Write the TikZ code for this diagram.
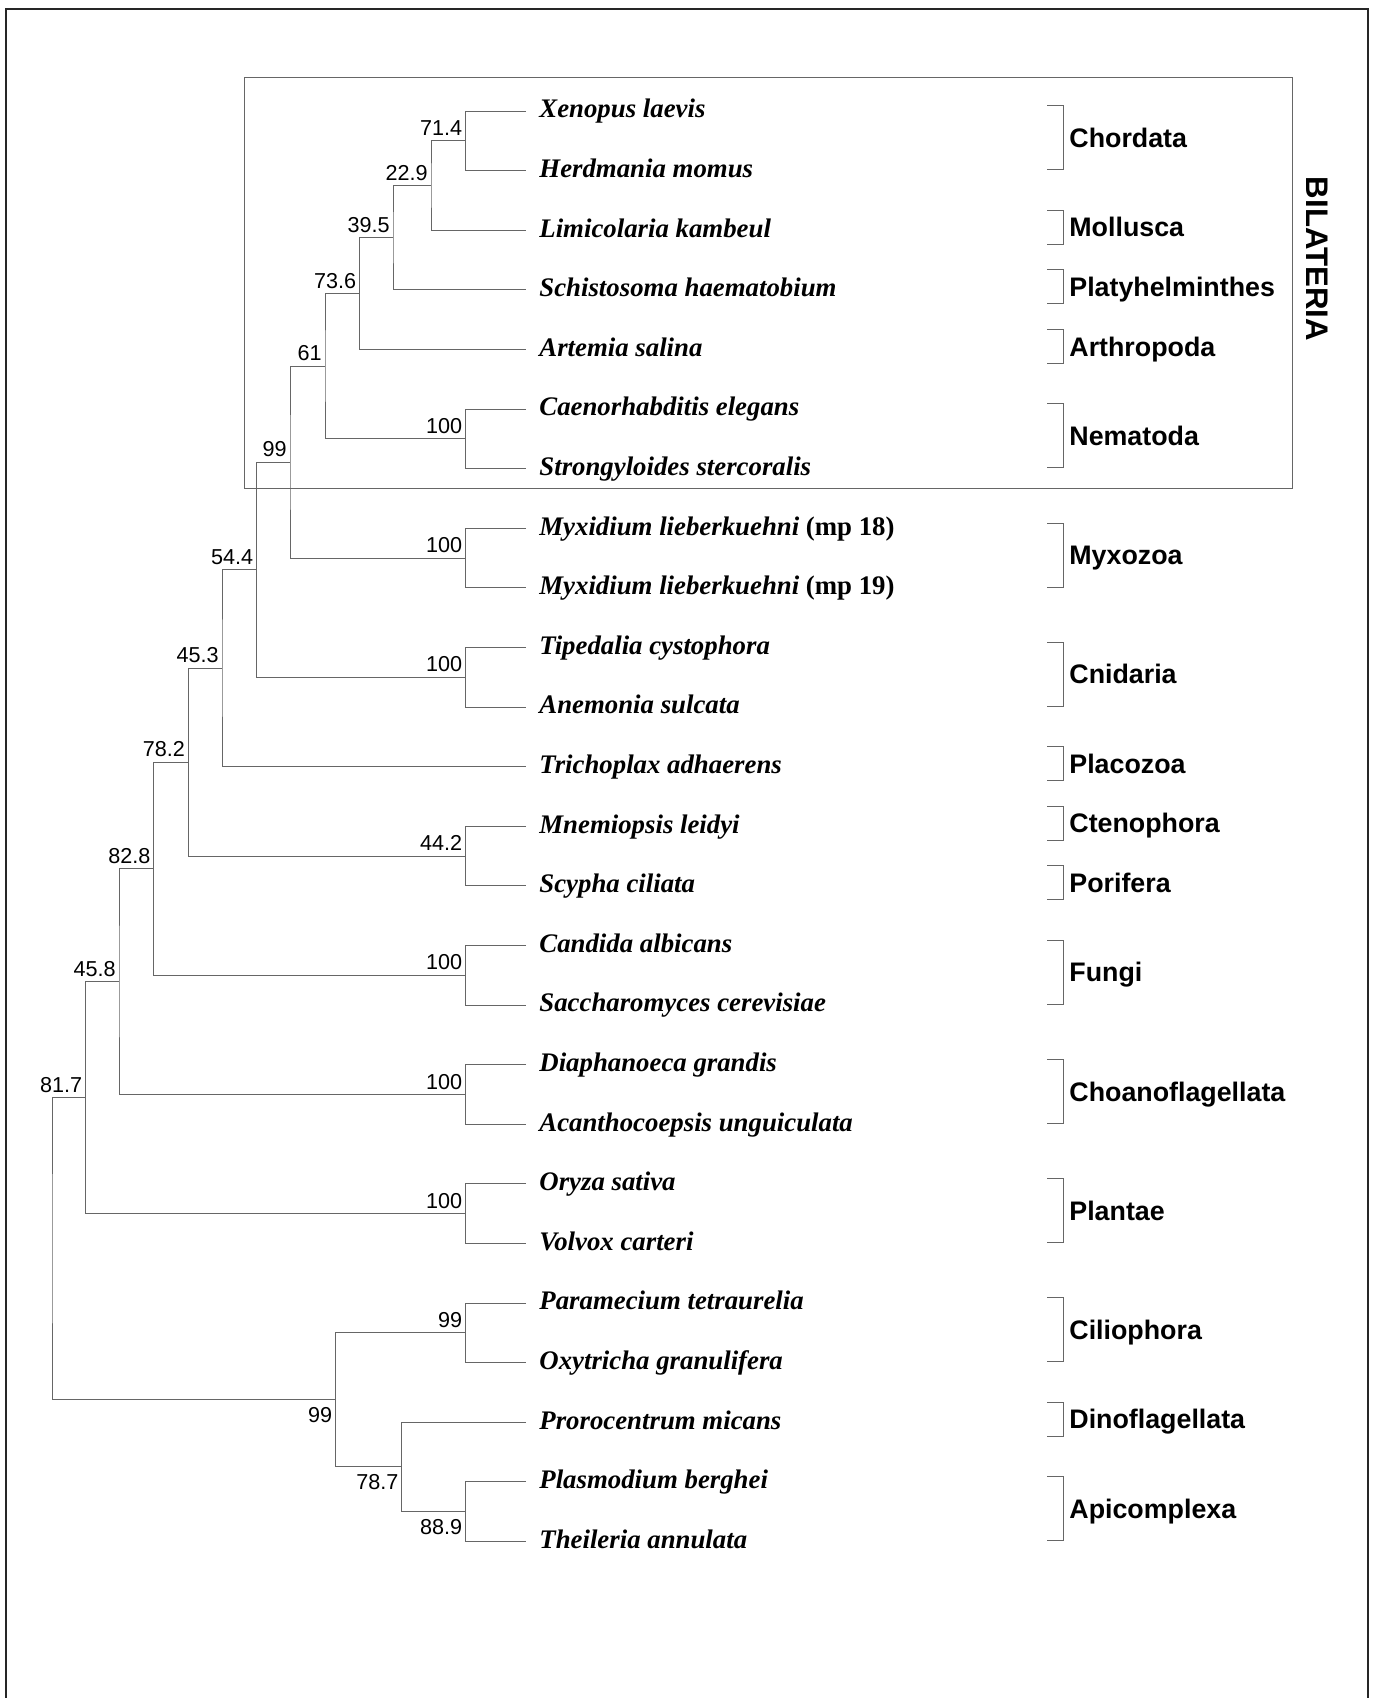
\documentclass[tikz,border=0pt]{standalone}
\usepackage{fontspec}
\setmainfont{Liberation Serif}
\setsansfont{Liberation Sans}
\usetikzlibrary{calc}

\begin{document}
\begin{tikzpicture}[
        x=0.5pt, y=-0.5pt,
        branch/.style={draw=black!60, line width=0.5pt},
        taxon/.style={
            anchor=west,
            inner xsep=6.5pt,
            inner ysep=0pt,
            text height=6.8pt, % centre of node sits on the branch
            text depth=0pt,
            font=\fontsize{13.4}{16}\selectfont\bfseries\itshape
        },
        clade/.style={anchor=west, inner sep=0pt, text height=9.6pt, text depth=0pt,
            font=\fontsize{13.4}{16}\selectfont\sffamily\bfseries},
        support/.style={anchor=south east, inner xsep=1.5pt, inner ysep=2.4pt,
            font=\fontsize{10.8}{12}\selectfont\sffamily},
        supportbelow/.style={support, anchor=north east, inner ysep=3.5pt},
        bracket/.style={draw=black!60, line width=0.5pt},
        frame/.style={draw=black!85, line width=1.2pt}
    ]
    \useasboundingbox (0,0) rectangle (1375,1698);

    % --- Frame and Bilateria box ---
    \draw[frame] (6,1698) -- (6,9) -- (1368,9) -- (1368,1698);
    \draw[branch] (244,77) rectangle (1292,488);
    \node[rotate=-90, inner sep=0pt, font=\fontsize{15.6}{18}\selectfont\sffamily\bfseries]
        (bilat) at (1317,259) {BILATERIA};

    % --- Taxa ---
    \foreach \i/\leaf/\txt in {
        0/xen/Xenopus laevis, 1/her/Herdmania momus, 2/lim/Limicolaria kambeul,
        3/sch/Schistosoma haematobium, 4/art/Artemia salina,
        5/cae/Caenorhabditis elegans, 6/str/Strongyloides stercoralis,
        7/myxa/{Myxidium lieberkuehni \textup{(mp 18)}},
        8/myxb/{Myxidium lieberkuehni \textup{(mp 19)}},
        9/tipe/Tipedalia cystophora, 10/ane/Anemonia sulcata,
        11/tri/Trichoplax adhaerens, 12/mne/Mnemiopsis leidyi, 13/scy/Scypha ciliata,
        14/can/Candida albicans, 15/sac/Saccharomyces cerevisiae,
        16/dia/Diaphanoeca grandis, 17/aca/Acanthocoepsis unguiculata,
        18/ory/Oryza sativa, 19/vol/Volvox carteri,
        20/par/Paramecium tetraurelia, 21/oxy/Oxytricha granulifera,
        22/pro/Prorocentrum micans, 23/pla/Plasmodium berghei, 24/the/Theileria annulata}
        \node[taxon] (\leaf) at (526,{111+59.6*\i}) {\txt};

    % --- Internal nodes: name/child/child/x/support/style ---
    \foreach \jn/\ja/\jb/\jx/\lab/\sty in {
        chor/xen/her/465.6/71.4/support,
        cm/chor/lim/431/22.9/support,
        cmp/cm/sch/393/39.5/support,
        cmpa/cmp/art/359.5/73.6/support,
        nema/cae/str/465.6/100/support,
        bila/cmpa/nema/325/61/support,
        myxo/myxa/myxb/465.6/100/support,
        bimy/bila/myxo/290/99/support,
        cnid/tipe/ane/465.6/100/support,
        bmc/bimy/cnid/256.6/54.4/support,
        bmcp/bmc/tri/222/45.3/support,
        cp/mne/scy/465.6/44.2/support,
        meta/bmcp/cp/188.4/78.2/support,
        fung/can/sac/465.6/100/support,
        mefu/meta/fung/153.7/82.8/support,
        choa/dia/aca/465.6/100/support,
        opis/mefu/choa/119/45.8/support,
        plan/ory/vol/465.6/100/support,
        crown/opis/plan/85.5/81.7/support,
        cili/par/oxy/465.6/99/support,
        apic/pla/the/465.6/88.9/supportbelow,
        dina/pro/apic/401.7/78.7/supportbelow,
        alve/cili/dina/335.6/99/supportbelow}
    {
        \path ($(\ja)!.5!(\jb)$) coordinate (mid);
        \coordinate (\jn) at (\jx,0 |- mid);
        \draw[branch] (\ja) -| (\jn) |- (\jb);
        \node[\sty] (lbl-\jn) at (\jn) {\lab};
    }

    % root, no support value
    \path ($(crown)!.5!(alve)$) coordinate (mid);
    \coordinate (root) at (52,0 |- mid);
    \draw[branch] (crown) -| (root) |- (alve);

    % --- Clades ---
    \foreach \cl/\ctxt/\ca/\cb in {
        chordata/Chordata/0/1, mollusca/Mollusca/2/2, platy/Platyhelminthes/3/3,
        arthro/Arthropoda/4/4, nematoda/Nematoda/5/6, myxozoa/Myxozoa/7/8,
        cnidaria/Cnidaria/9/10, placozoa/Placozoa/11/11, cteno/Ctenophora/12/12,
        porifera/Porifera/13/13, fungi/Fungi/14/15, choano/Choanoflagellata/16/17,
        plantae/Plantae/18/19, cilio/Ciliophora/20/21, dino/Dinoflagellata/22/22,
        apico/Apicomplexa/23/24}
    {
        \pgfmathsetmacro\cy{111+59.6*(\ca+\cb)/2-3}
        \pgfmathsetmacro\ch{17+15*(\cb-\ca)}
        \node[clade] (\cl) at (1069,\cy) {\ctxt};
        \draw[bracket] (1047,\cy-\ch) -- (1063,\cy-\ch) -- (1063,\cy+\ch) -- (1047,\cy+\ch);
    }

\end{tikzpicture}
\end{document}
